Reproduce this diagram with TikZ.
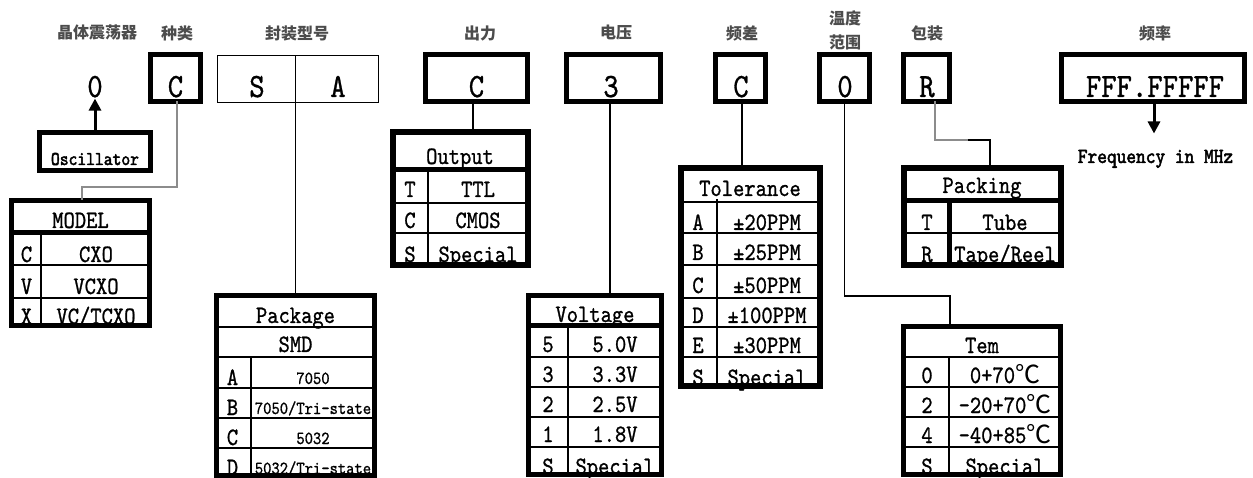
\documentclass[tikz,border=0pt]{standalone}
\usepackage{fontspec}
\usetikzlibrary{arrows.meta,calc}
\newfontfamily\cjk{Noto Sans CJK SC}
\newfontfamily\mono[FakeBold=0.9,FakeStretch=0.86]{lmmono10-regular.otf}
\newfontfamily\monob[FakeBold=2.2,FakeStretch=0.86]{lmmono10-regular.otf}
\tikzset{
  box/.style={draw, line width=5pt, inner sep=0pt, outer sep=0pt, anchor=north west},
  fine/.style={line width=1.4pt},
  hsep/.style={line width=5pt},
  conn/.style={line width=1.4pt},
  big/.style={font=\mono\fontsize{34}{34}\selectfont, inner sep=0pt, anchor=base},
  tt/.style={font=\mono\fontsize{25}{25}\selectfont, inner sep=0pt, anchor=base},
  ts/.style={font=\mono\fontsize{18.4}{18.4}\selectfont, inner sep=0pt, anchor=base},
  cn/.style={font=\cjk\bfseries\fontsize{16}{16}\selectfont, inner sep=0pt, text=black!70},
  arr/.style={line width=3pt, -{Triangle[width=12pt,length=12pt]}},
}
% \obox[opts]{name}{x1}{y1}{x2}{y2} : outer edges
\newcommand\obox[6][]{\node[box,#1,minimum width={#5-#3-5},minimum height={#6-#4-5}] (#2) at ({#3+2.5},{#4+2.5}) {};}
\newcommand\hln[4][fine]{\draw[#1] (#2,#4) -- (#3,#4);}
\newcommand\vln[4][fine]{\draw[#1] (#4,#2) -- (#4,#3);}
\begin{document}
\begin{tikzpicture}[x=1pt,y=-1pt]
\useasboundingbox (0,0) rectangle (1253,478);
\fill[white] (0,0) rectangle (1253,478);

% ---- top Chinese labels
\node[cn] (l1) at (97,33) {晶体震荡器};
\node[cn] (l2) at (177,33) {种类};
\node[cn] (l3) at (297,33) {封装型号};
\node[cn] (l4) at (480,33) {出力};
\node[cn] (l5) at (616,33) {电压};
\node[cn] (l6) at (742,33) {频差};
\node[cn] (l7a) at (845,18) {温度};
\node[cn] (l7b) at (845,42) {范围};
\node[cn] (l8) at (927,33) {包装};
\node[cn] (l9) at (1155,33) {频率};

% ---- value texts
\node[big, inner sep=1pt] (o0) at (95,97) {0};
\node[big] (tC) at (175.5,97) {C};
\node[big] (tS) at (257,97) {S};
\node[big] (tA) at (338,97) {A};
\node[big] (tOut) at (476.5,97) {C};
\node[big] (t3) at (611,97) {3};
\node[big] (tTol) at (741,97) {C};
\node[big] (tTem) at (845,97) {0};
\node[big] (tPack) at (927,97) {R};
\node[big] (tFreq) at (1155,97) {FFF.FFFFF};

% ---- value boxes
\obox{vC}{148}{52}{203}{104}
\node[draw, line width=1.4pt, inner sep=0pt, outer sep=0pt, anchor=north west,
      minimum width=160.6, minimum height=46.6] (sa) at (217.7,55.7) {};
\obox{vOut}{423}{52}{530}{104}
\obox{v3}{564}{52}{663}{104}
\obox{vTol}{713}{52}{768}{104}
\obox{vTem}{817}{52}{872}{104}
\obox{vPack}{901}{52}{952}{104}
\obox{vFreq}{1059}{52}{1247}{104}

% ---- Oscillator
\node[font=\monob\fontsize{19.5}{19.5}\selectfont, inner sep=0pt, anchor=base] (osct) at (95,165) {Oscillator};
\obox{osc}{37}{130}{153}{173}

% ---- MODEL table
\node[tt] (m0) at (80.5,228) {MODEL};
\node[tt] (m1a) at (26.5,262) {C}; \node[tt] (m1b) at (96,262) {CXO};
\node[tt] (m2a) at (26.5,294) {V}; \node[tt] (m2b) at (96,294) {VCXO};
\node[tt] (m3a) at (26.5,324) {X}; \node[tt] (m3b) at (96,324) {VC/TCXO};
\hln[hsep]{9}{152}{233}
\hln{9}{152}{265}
\hln{9}{152}{298}
\vln{233}{326}{41}
\obox{model}{9}{198}{152}{328}

% ---- Output table
\node[tt] (p0) at (460,164) {Output};
\node[tt] (p1a) at (410,197) {T}; \node[tt] (p1b) at (478,197) {TTL};
\node[tt] (p2a) at (410,228) {C}; \node[tt] (p2b) at (478,228) {CMOS};
\node[tt] (p3a) at (410,262) {S}; \node[tt] (p3b) at (478,262) {Special};
\hln[hsep]{390}{530}{170}
\hln{390}{530}{203}
\hln{390}{530}{233}
\vln{170}{266}{428}
\obox[line width=6pt]{out}{390}{130}{530}{268}

% ---- Package table
\node[tt] (k0) at (295.5,323) {Package};
\node[tt] (k1) at (295.5,352) {SMD};
\node[tt] (k2a) at (232.5,385) {A}; \node[ts] (k2b) at (313,384) {7050};
\node[tt] (k3a) at (232.5,415) {B}; \node[ts] (k3b) at (313,414) {7050/Tri-state};
\node[tt] (k4a) at (232.5,445) {C}; \node[ts] (k4b) at (313,444) {5032};
\node[tt] (k5a) at (232.5,475) {D}; \node[ts] (k5b) at (313,474) {5032/Tri-state};
\hln{214}{377}{327}
\hln{214}{377}{357}
\hln{214}{377}{388}
\hln{214}{377}{418}
\hln{214}{377}{448}
\vln{357}{476}{251}
\obox{pkg}{214}{293}{377}{478}

% ---- Voltage table
\node[tt] (u0) at (595,322) {Voltage};
\node[tt] (u1a) at (548,352) {5}; \node[tt] (u1b) at (615,352) {5.0V};
\node[tt] (u2a) at (548,382) {3}; \node[tt] (u2b) at (615,382) {3.3V};
\node[tt] (u3a) at (548,412) {2}; \node[tt] (u3b) at (615,412) {2.5V};
\node[tt] (u4a) at (548,442) {1}; \node[tt] (u4b) at (615,442) {1.8V};
\node[tt] (u5a) at (548,474) {S}; \node[tt] (u5b) at (615,474) {Special};
\hln[hsep]{526}{664}{326}
\hln{526}{664}{357}
\hln{526}{664}{387}
\hln{526}{664}{417}
\hln{526}{664}{447}
\vln{326}{475}{568}
\obox{volt}{526}{293}{664}{477}

% ---- Tolerance table
\node[tt] (r0) at (750,196) {Tolerance};
\node[tt] (r1a) at (698,230) {A}; \node[tt] (r1b) at (767,230) {±20PPM};
\node[tt] (r2a) at (698,260) {B}; \node[tt] (r2b) at (767,260) {±25PPM};
\node[tt] (r3a) at (698,293) {C}; \node[tt] (r3b) at (767,293) {±50PPM};
\node[tt] (r4a) at (698,323) {D}; \node[tt] (r4b) at (767,323) {±100PPM};
\node[tt] (r5a) at (698,353) {E}; \node[tt] (r5b) at (767,353) {±30PPM};
\node[tt] (r6a) at (698,385) {S}; \node[tt] (r6b) at (767,385) {Special};
\hln{678}{822}{202}
\hln{678}{822}{233}
\hln{678}{822}{265}
\hln{678}{822}{298}
\hln{678}{822}{327}
\hln{678}{822}{357}
\vln{199}{386}{717}
\obox[line width=6pt]{tol}{678}{166}{822}{388}

% ---- Packing table
\node[tt] (q0) at (982,193) {Packing};
\node[tt] (q1a) at (927,230) {T}; \node[tt] (q1b) at (1005,230) {Tube};
\node[tt] (q2a) at (927,262) {R}; \node[tt] (q2b) at (1005,262) {Tape/Reel};
\hln[hsep]{901}{1063}{201}
\hln{901}{1063}{233}
\vln[line width=4.5pt]{201}{266}{949.5}
\obox[line width=6pt]{pack}{901}{166}{1063}{268}

% ---- Tem table
\node[tt] (w0) at (982,353) {Tem};
\node[tt] (w1a) at (927,383) {0}; \node[tt] (w1b) at (1005,383) {0+70{\cjk ℃}};
\node[tt] (w2a) at (927,413) {2}; \node[tt] (w2b) at (1005,413) {-20+70{\cjk ℃}};
\node[tt] (w3a) at (927,443) {4}; \node[tt] (w3b) at (1005,443) {-40+85{\cjk ℃}};
\node[tt] (w4a) at (927,474) {S}; \node[tt] (w4b) at (1005,474) {Special};
\hln{901}{1063}{357}
\hln{901}{1063}{387}
\hln{901}{1063}{417}
\hln{901}{1063}{447}
\vln{357}{475}{949}
\obox{tem}{901}{324}{1063}{477}

% ---- Frequency note
\node[font=\monob\fontsize{21.5}{21.5}\selectfont, inner sep=0pt, anchor=base] (fq) at (1155.5,163) {Frequency in MHz};

% ---- connectors
\coordinate (jm) at (82,187);
\draw[conn, black!45] ([xshift=1.5]vC.south) |- (jm) -- (jm |- model.north);
\draw[conn] (sa.north -| pkg.north) -- (pkg.north);
\draw[conn] ([xshift=-3.5]vOut.south) -- ([xshift=-3.5]vOut.south |- out.north);
\draw[conn] ([xshift=-3.5]v3.south) -- ([xshift=-3.5]v3.south |- volt.north);
\draw[conn] ([xshift=1.5]vTol.south) -- ([xshift=1.5]vTol.south |- tol.north);
\coordinate (jt) at (950,296);
\draw[conn] (vTem.south) |- (jt) -- (jt |- tem.north);
\coordinate (jp1) at (968,140);
\coordinate (jp2) at (990,140);
\draw[conn, black!45] ([xshift=8.5]vPack.south) |- (jp1);
\draw[conn] (jp1) -- (jp2) -- (jp2 |- pack.north);
\draw[arr] (osc.north) -- (o0.south);
\draw[arr] ([xshift=1]vFreq.south) -- ++(0,32);
\end{tikzpicture}
\end{document}
